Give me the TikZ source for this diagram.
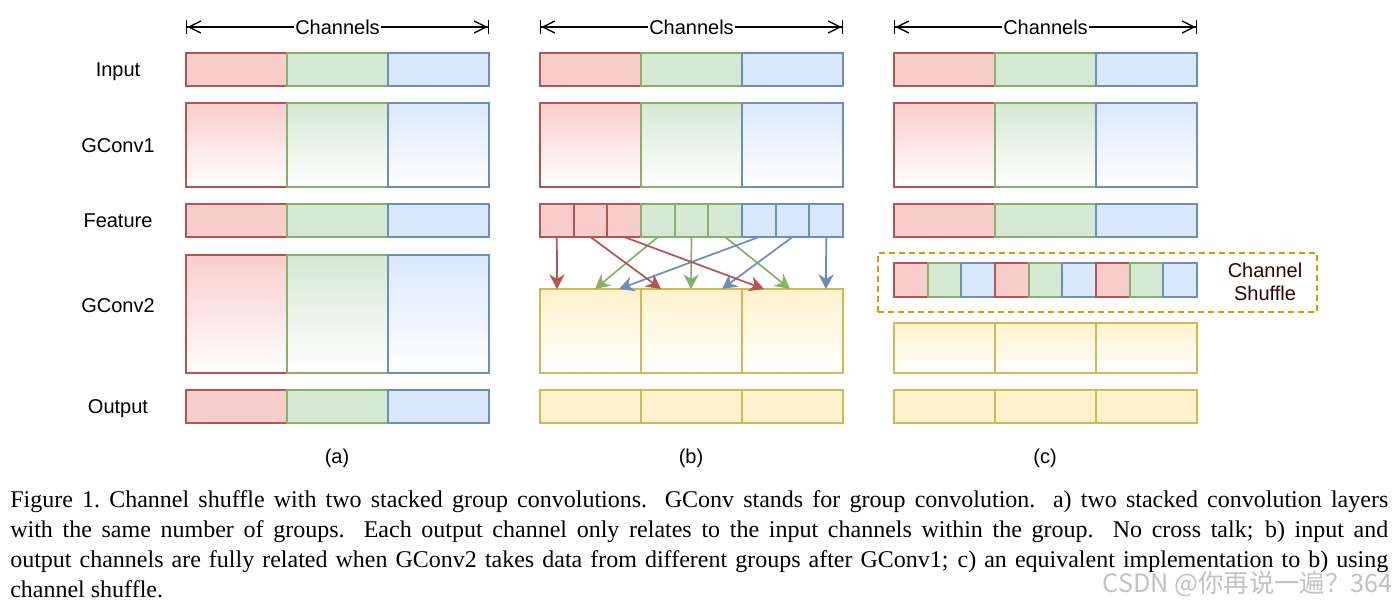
\documentclass[tikz,border=0pt]{standalone}
\usepackage{fontspec}
\setmainfont{Liberation Serif}
\setsansfont{Liberation Sans}
\newfontfamily\cjkfont{Noto Sans CJK SC}
\usetikzlibrary{arrows.meta}
\definecolor{rfill}{HTML}{F8CECC}\definecolor{rdraw}{HTML}{B85450}
\definecolor{gfill}{HTML}{D5E8D4}\definecolor{gdraw}{HTML}{82B366}
\definecolor{bfill}{HTML}{DAE8FC}\definecolor{bdraw}{HTML}{6C8EBF}
\definecolor{yfill}{HTML}{FFF2CC}\definecolor{ydraw}{HTML}{D6B656}
\definecolor{odraw}{HTML}{D79B00}
\definecolor{shtext}{HTML}{330000}
\tikzset{
  cell/.style={draw, line width=1.35pt, inner sep=0pt, outer sep=0pt, anchor=north west},
  R/.style={cell, draw=rdraw, fill=rfill},
  G/.style={cell, draw=gdraw, fill=gfill},
  B/.style={cell, draw=bdraw, fill=bfill},
  Y/.style={cell, draw=ydraw, fill=yfill},
  Rg/.style={cell, draw=rdraw, top color=rfill, bottom color=white},
  Gg/.style={cell, draw=gdraw, top color=gfill, bottom color=white},
  Bg/.style={cell, draw=bdraw, top color=bfill, bottom color=white},
  Yg/.style={cell, draw=ydraw, top color=yfill, bottom color=white},
  lab/.style={font=\sffamily\fontsize{15}{18}\selectfont, inner sep=0pt},
  rowlab/.style={lab, anchor=base},
  chanarrow/.style={line width=1pt,
    {Bar[width=11pt]Straight Barb[length=9pt,width=9pt]}-{Straight Barb[length=9pt,width=9pt]Bar[width=11pt]}},
  conn/.style={line width=1.3pt, -{Stealth[length=11pt,width=11.5pt,inset=3.5pt]}},
}
\newcommand\bx[6]{\node[#1, minimum width=#4*0.75pt, minimum height=#5*0.75pt] (#6) at ({#2},{#3}) {};}
\begin{document}
\begin{tikzpicture}[x=0.75pt,y=-0.75pt]
\useasboundingbox (0,0) rectangle (1399,608);

% row labels (baselines)
\node[rowlab] (l-in) at (118,76) {Input};
\node[rowlab] (l-g1) at (118,152) {GConv1};
\node[rowlab] (l-f)  at (118,227) {Feature};
\node[rowlab] (l-g2) at (118,312) {GConv2};
\node[rowlab] (l-out) at (118,413) {Output};

\foreach \c/\x in {a/186,b/540,c/894}{
  % channels arrow
  \coordinate (\c-cl) at (\x,27);
  \coordinate (\c-cr) at ({\x+303},27);
  \draw[chanarrow] (\c-cl) -- node[lab, fill=white, inner xsep=1pt, inner ysep=2pt] (\c-chan) {Channels} (\c-cr);
  % input
  \bx{R}{\x}{53}{101}{33}{\c-in1}
  \bx{G}{\x+101}{53}{101}{33}{\c-in2}
  \bx{B}{\x+202}{53}{101}{33}{\c-in3}
  % gconv1
  \bx{Rg}{\x}{103}{101}{84}{\c-ga1}
  \bx{Gg}{\x+101}{103}{101}{84}{\c-ga2}
  \bx{Bg}{\x+202}{103}{101}{84}{\c-ga3}
}

% (a) feature, gconv2, output
\bx{R}{186}{204}{101}{33}{a-f1}
\bx{G}{287}{204}{101}{33}{a-f2}
\bx{B}{388}{204}{101}{33}{a-f3}
\bx{Rg}{186}{255}{101}{118}{a-gb1}
\bx{Gg}{287}{255}{101}{118}{a-gb2}
\bx{Bg}{388}{255}{101}{118}{a-gb3}
\bx{R}{186}{390}{101}{33}{a-o1}
\bx{G}{287}{390}{101}{33}{a-o2}
\bx{B}{388}{390}{101}{33}{a-o3}

% (b) feature split into 9
\foreach \i/\s in {1/R,2/R,3/R,4/G,5/G,6/G,7/B,8/B,9/B}{
  \bx{\s}{540+(\i-1)*33.667}{204}{33.667}{33}{b-f\i}
}
\bx{Yg}{540}{289}{101}{84}{b-gb1}
\bx{Yg}{641}{289}{101}{84}{b-gb2}
\bx{Yg}{742}{289}{101}{84}{b-gb3}
\bx{Y}{540}{390}{101}{33}{b-o1}
\bx{Y}{641}{390}{101}{33}{b-o2}
\bx{Y}{742}{390}{101}{33}{b-o3}

% arrow targets on top of GConv2 (b)
\coordinate (t1) at (557,289);
\coordinate (t2) at (595,289);
\coordinate (t3) at (619,289);
\coordinate (t4) at (661,289);
\coordinate (t5) at (691,289);
\coordinate (t6) at (722,289);
\coordinate (t7) at (764,289);
\coordinate (t8) at (790,289);
\coordinate (t9) at (826,289);
\draw[conn, draw=gdraw, fill=gdraw] (b-f4.south) -- (t2);
\draw[conn, draw=gdraw, fill=gdraw] (b-f5.south) -- (t5);
\draw[conn, draw=gdraw, fill=gdraw] (b-f6.south) -- (t8);
\draw[conn, draw=bdraw, fill=bdraw] (b-f7.south) -- (t3);
\draw[conn, draw=bdraw, fill=bdraw] (b-f8.south) -- (t6);
\draw[conn, draw=bdraw, fill=bdraw] (b-f9.south) -- (t9);
\draw[conn, draw=rdraw, fill=rdraw] (b-f1.south) -- (t1);
\draw[conn, draw=rdraw, fill=rdraw] (b-f2.south) -- (t4);
\draw[conn, draw=rdraw, fill=rdraw] (b-f3.south) -- (t7);

% (c) feature, shuffle, gconv2, output
\bx{R}{894}{204}{101}{33}{c-f1}
\bx{G}{995}{204}{101}{33}{c-f2}
\bx{B}{1096}{204}{101}{33}{c-f3}
\node[draw=odraw, dash pattern=on 4.5pt off 3pt, line width=1.35pt, inner sep=0pt, anchor=north west,
  minimum width=439*0.75pt, minimum height=59*0.75pt] (c-shbox) at (877,252) {};
\foreach \i/\s in {1/R,2/G,3/B,4/R,5/G,6/B,7/R,8/G,9/B}{
  \bx{\s}{894+(\i-1)*33.667}{263}{33.667}{34}{c-s\i}
}
\node[lab, text=shtext, align=center, font=\sffamily\fontsize{15}{17.25}\selectfont] (c-shtext) at (1265,282) {Channel\\Shuffle};
\bx{Yg}{894}{323}{101}{50}{c-gb1}
\bx{Yg}{995}{323}{101}{50}{c-gb2}
\bx{Yg}{1096}{323}{101}{50}{c-gb3}
\bx{Y}{894}{390}{101}{33}{c-o1}
\bx{Y}{995}{390}{101}{33}{c-o2}
\bx{Y}{1096}{390}{101}{33}{c-o3}

% sub captions
\node[lab] (cap-a) at (337,458) {(a)};
\node[lab] (cap-b) at (691,458) {(b)};
\node[lab] (cap-c) at (1045,458) {(c)};

% figure caption
\node[anchor=north west, inner sep=0pt, text width=1033.5pt, align=justify,
  font=\fontsize{18}{22.5}\selectfont] (caption) at (10,490)
  {Figure 1.\ Channel shuffle with two stacked group convolutions. GConv stands for group convolution. a) two stacked convolution layers\linebreak
  with the same number of groups. Each output channel only relates to the input channels within the group. No cross talk; b) input and\linebreak
  output channels are fully related when GConv2 takes data from different groups after GConv1; c) an equivalent implementation to b) using\linebreak
  channel shuffle.};

% watermark
\node[anchor=base east, inner sep=0pt, text=black!24, font=\cjkfont\fontsize{19}{20}\selectfont] (wm) at (1393,592) {CSDN @你再说一遍？364};
\end{tikzpicture}
\end{document}
